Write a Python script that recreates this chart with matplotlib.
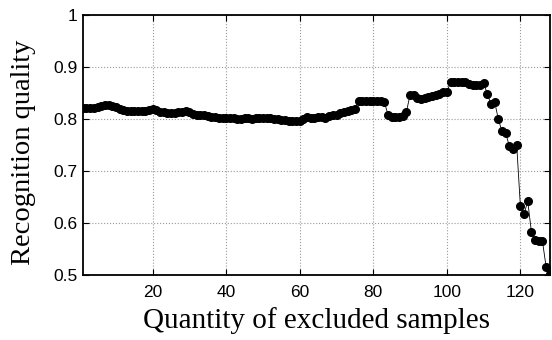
import numpy as np
import matplotlib.pyplot as plt

# recognition quality vs number of excluded samples
quality = [
    0.822, 0.822, 0.821, 0.822, 0.823,
    0.825, 0.826, 0.826, 0.825, 0.823,
    0.820, 0.818, 0.816, 0.815, 0.815, 0.815, 0.815, 0.816,
    0.818, 0.819, 0.817,
    0.814, 0.813, 0.812, 0.812, 0.812, 0.813, 0.813, 0.816, 0.814,
    0.810, 0.808, 0.808, 0.807, 0.806, 0.804,
    0.803, 0.802, 0.802, 0.801, 0.801, 0.801, 0.800, 0.800, 0.801, 0.802,
    0.800, 0.801, 0.802, 0.802, 0.801, 0.801, 0.800, 0.800, 0.799, 0.798,
    0.797, 0.796, 0.796, 0.797, 0.800,
    0.803, 0.802, 0.801, 0.803, 0.803, 0.802, 0.806, 0.808, 0.808, 0.811,
    0.813, 0.815, 0.817, 0.820,
    0.835, 0.835, 0.835, 0.835, 0.835, 0.835, 0.835, 0.833,
    0.808, 0.804, 0.803, 0.803, 0.805, 0.813,
    0.847, 0.846, 0.840, 0.838,
    0.841, 0.843, 0.845, 0.846, 0.849, 0.851, 0.851,
    0.871, 0.872, 0.872, 0.871, 0.871,
    0.868, 0.866, 0.865, 0.866, 0.869,
    0.848, 0.829, 0.833, 0.800, 0.776, 0.773, 0.748, 0.742, 0.750,
    0.633, 0.617, 0.642, 0.583, 0.567, 0.565, 0.565, 0.516, 0.502,
]
samples = np.arange(1, len(quality) + 1)

xticks = [20, 40, 60, 80, 100, 120]
yticks = [0.5, 0.6, 0.7, 0.8, 0.9, 1.0]
ytick_labels = ['0.5', '0.6', '0.7', '0.8', '0.9', '1']

fig = plt.figure(figsize=(5.52, 3.40), dpi=100)
ax = fig.add_axes([0.150, 0.191, 0.846, 0.765])

ax.plot(samples, quality, color='black', linewidth=0.6,
        marker='o', markersize=5.5, markerfacecolor='black', markeredgecolor='black')

ax.set_xlim(1, 128)
ax.set_ylim(0.5, 1.0)
ax.set_xticks(xticks)
ax.set_yticks(yticks)
ax.set_yticklabels(ytick_labels)

ax.grid(True, color='#999999', linestyle=':', linewidth=0.8)
ax.tick_params(direction='in', top=True, right=True, length=4, width=0.8,
               labelsize=12.5)
ax.tick_params(axis='x', pad=7.5)
ax.tick_params(axis='y', pad=4)
for lbl in ax.get_xticklabels() + ax.get_yticklabels():
    lbl.set_fontfamily('Liberation Sans')
for s in ax.spines.values():
    s.set_linewidth(1.3)

ax.set_xlabel('Quantity of excluded samples', fontfamily='Liberation Serif',
              fontsize=21, labelpad=5)
ax.set_ylabel('Recognition quality', fontfamily='Liberation Serif',
              fontsize=20.5)
ax.yaxis.set_label_coords(-0.10, 0.473)

fig.savefig('out.png', dpi=100)
